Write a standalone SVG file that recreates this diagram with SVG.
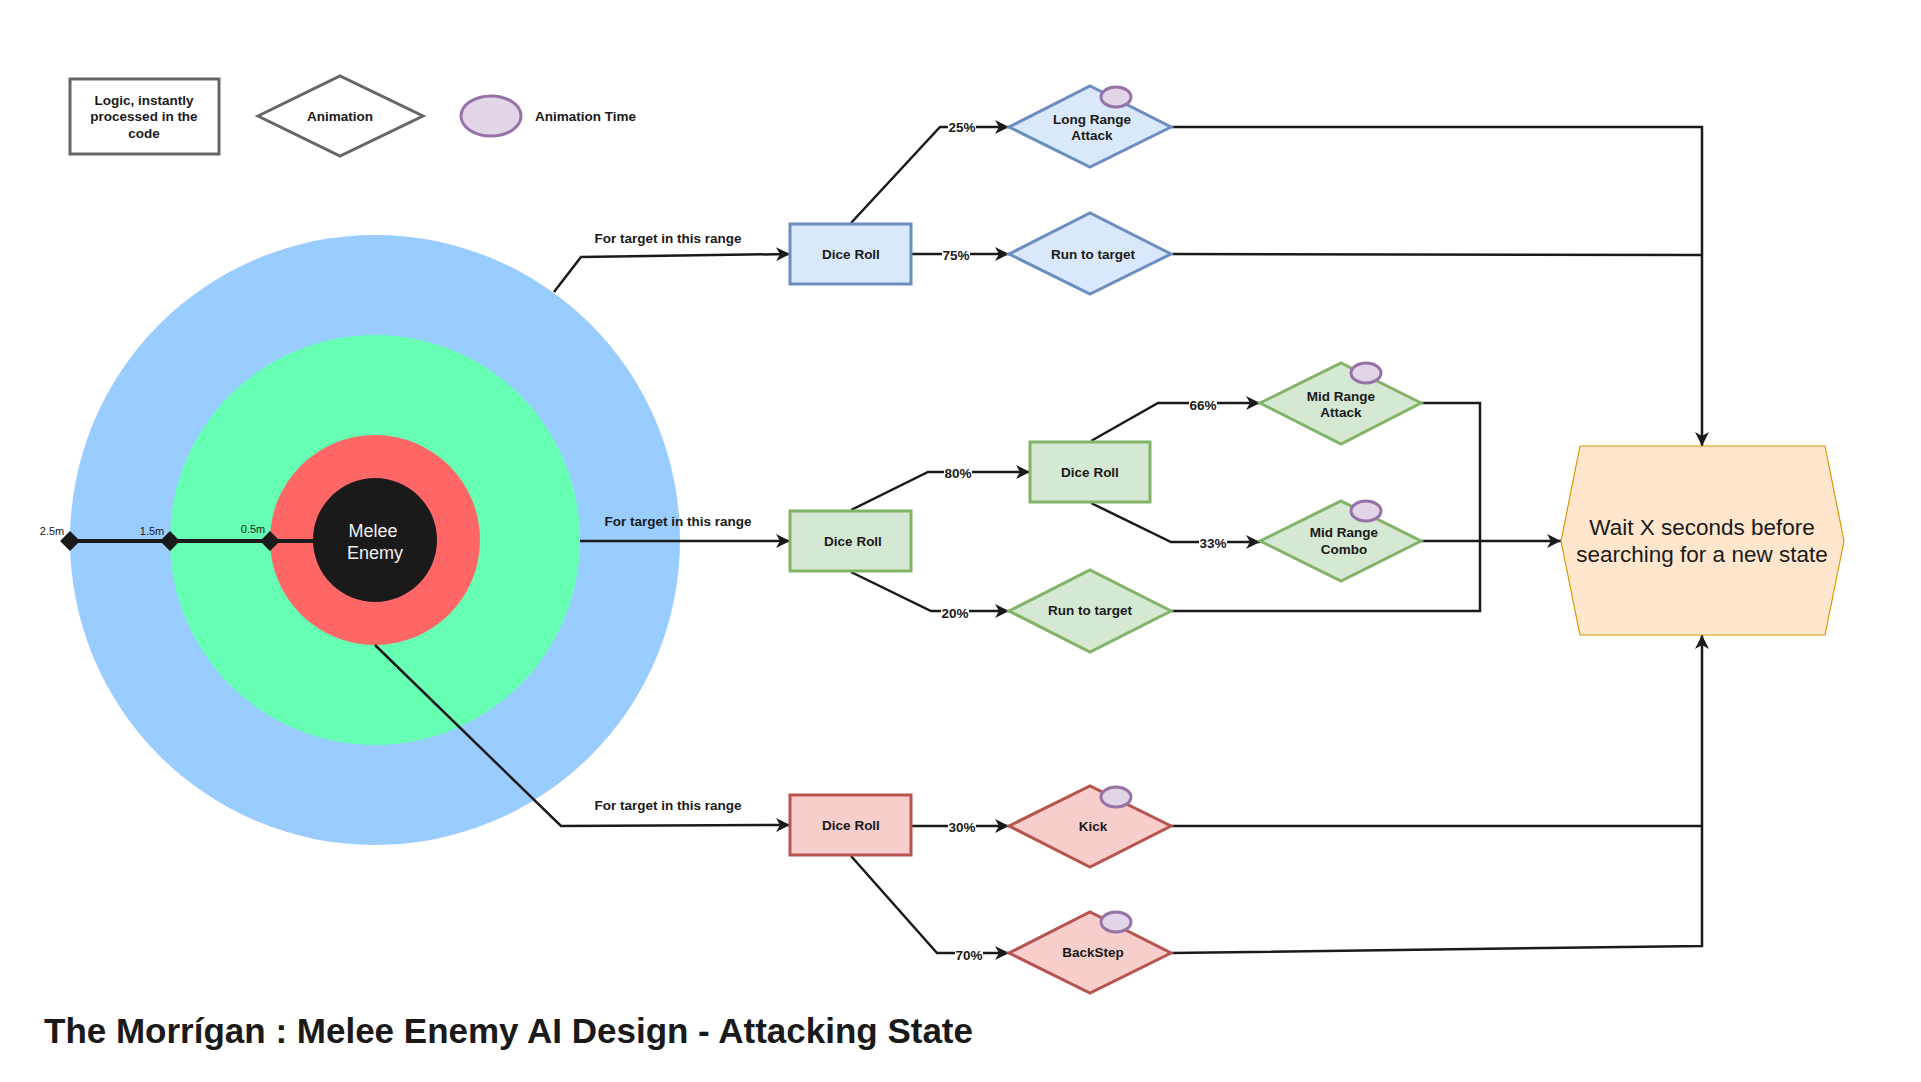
<svg xmlns="http://www.w3.org/2000/svg" width="1921" height="1082" viewBox="0 0 1921 1082">
<defs>
<style>
text{font-family:"Liberation Sans",Arial,sans-serif;fill:#1a1a1a}
.b{font-weight:bold;font-size:13.5px}
.c{text-anchor:middle;dominant-baseline:central}
.edge{fill:none;stroke:#1a1a1a;stroke-width:2.5}
.blue{fill:#dae8fc;stroke:#6c8ebf;stroke-width:3}
.green{fill:#d5e8d4;stroke:#82b366;stroke-width:3}
.red{fill:#f8cecc;stroke:#b85450;stroke-width:3}
.tm{fill:#e1d5e7;stroke:#9673a6;stroke-width:3}
.lbg{fill:#ffffff}
</style>
<marker id="arr" markerUnits="userSpaceOnUse" markerWidth="16" markerHeight="14" refX="14" refY="7" orient="auto" viewBox="0 0 16 14">
<path d="M0,0 L14,7 L0,14 L4,7 z" fill="#1a1a1a"/>
</marker>
</defs>
<rect width="1921" height="1082" fill="#ffffff"/>

<g id="legend-logic">
<rect x="70" y="79" width="149" height="75" fill="#ffffff" stroke="#666666" stroke-width="3"/>
<text class="b c" x="144" y="100">Logic, instantly</text>
<text class="b c" x="144" y="116">processed in the</text>
<text class="b c" x="144" y="133">code</text>
</g>
<g id="legend-animation">
<path d="M258,116 L340,76 L423,116 L340,156 z" fill="#ffffff" stroke="#666666" stroke-width="3"/>
<text class="b c" x="340" y="116">Animation</text>
</g>
<g id="legend-time">
<ellipse cx="491" cy="116" rx="30" ry="20" class="tm" stroke-width="3.5"/>
<text class="b" x="535" y="116" dominant-baseline="central">Animation Time</text>
</g>

<g id="range-circles">
<circle cx="375" cy="540" r="305" fill="#99ccff"/>
<circle cx="375" cy="540" r="205" fill="#66ffb3"/>
<circle cx="375" cy="540" r="105" fill="#ff6666"/>
</g>
<g id="ruler">
<path d="M70,541 L313,541" stroke="#1a1a1a" stroke-width="4" fill="none"/>
<path d="M60,541 L70,531 L80,541 L70,551 z M160,541 L170,531 L180,541 L170,551 z M260,541 L270,531 L280,541 L270,551 z" fill="#1a1a1a"/>
<text x="52" y="531" font-size="11" text-anchor="middle" dominant-baseline="central">2.5m</text>
<text x="152" y="531" font-size="11" text-anchor="middle" dominant-baseline="central">1.5m</text>
<text x="253" y="529" font-size="11" text-anchor="middle" dominant-baseline="central">0.5m</text>
</g>
<g id="melee-enemy">
<circle cx="375" cy="540" r="62" fill="#1a1a1a"/>
<text class="c" x="373" y="531" font-size="18" style="fill:#f0f0f0">Melee</text>
<text class="c" x="375" y="553" font-size="18" style="fill:#f0f0f0">Enemy</text>
</g>

<g id="connectors">
<path class="edge" d="M554,292 L581,257 L790,254" marker-end="url(#arr)"/>
<path class="edge" d="M580,541 L790,541" marker-end="url(#arr)"/>
<path class="edge" d="M375,645 L561,826 L790,825" marker-end="url(#arr)"/>
<path class="edge" d="M851,223 L940,127 L1009,127" marker-end="url(#arr)"/>
<path class="edge" d="M912,254 L1009,254" marker-end="url(#arr)"/>
<path class="edge" d="M851,510 L928,472 L1030,472" marker-end="url(#arr)"/>
<path class="edge" d="M851,572 L931,611 L1009,611" marker-end="url(#arr)"/>
<path class="edge" d="M1091,441 L1158,403 L1260,403" marker-end="url(#arr)"/>
<path class="edge" d="M1091,503 L1171,542 L1260,542" marker-end="url(#arr)"/>
<path class="edge" d="M912,826 L1009,826" marker-end="url(#arr)"/>
<path class="edge" d="M851,856 L937,953 L1009,953" marker-end="url(#arr)"/>
<path class="edge" d="M1171,127 L1702,127 L1702,446" marker-end="url(#arr)"/>
<path class="edge" d="M1172,254 L1702,255"/>
<path class="edge" d="M1421,403 L1480,403 L1480,611 L1171,611"/>
<path class="edge" d="M1421,541 L1561,541" marker-end="url(#arr)"/>
<path class="edge" d="M1171,826 L1702,826"/>
<path class="edge" d="M1171,953 L1702,946 L1702,635" marker-end="url(#arr)"/>
<text class="b c" x="668" y="238">For target in this range</text>
<text class="b c" x="678" y="521">For target in this range</text>
<text class="b c" x="668" y="805">For target in this range</text>
<rect class="lbg" x="948" y="119" width="28" height="16"/><text class="b c" x="962" y="127">25%</text>
<rect class="lbg" x="942" y="246" width="28" height="16"/><text class="b c" x="956" y="255">75%</text>
<rect class="lbg" x="944" y="464" width="28" height="16"/><text class="b c" x="958" y="473">80%</text>
<rect class="lbg" x="941" y="604" width="28" height="16"/><text class="b c" x="955" y="613">20%</text>
<rect class="lbg" x="1189" y="396" width="28" height="16"/><text class="b c" x="1203" y="405">66%</text>
<rect class="lbg" x="1199" y="534" width="28" height="16"/><text class="b c" x="1213" y="543">33%</text>
<rect class="lbg" x="948" y="818" width="28" height="16"/><text class="b c" x="962" y="827">30%</text>
<rect class="lbg" x="955" y="946" width="28" height="16"/><text class="b c" x="969" y="955">70%</text>
</g>

<g id="dice-long">
<rect class="blue" x="790" y="224" width="121" height="60"/>
<text class="b c" x="851" y="254">Dice Roll</text>
</g>
<g id="long-range-attack">
<path class="blue" d="M1009,127 L1090,86 L1171,127 L1090,167 z"/>
<ellipse class="tm" cx="1116" cy="97" rx="15" ry="10"/>
<text class="b c" x="1092" y="119">Long Range</text>
<text class="b c" x="1092" y="135">Attack</text>
</g>
<g id="run-long">
<path class="blue" d="M1009,254 L1090,213 L1171,254 L1090,294 z"/>
<text class="b c" x="1093" y="254">Run to target</text>
</g>

<g id="dice-mid">
<rect class="green" x="790" y="511" width="121" height="60"/>
<text class="b c" x="853" y="541">Dice Roll</text>
</g>
<g id="dice-mid-2">
<rect class="green" x="1030" y="442" width="120" height="60"/>
<text class="b c" x="1090" y="472">Dice Roll</text>
</g>
<g id="mid-range-attack">
<path class="green" d="M1260,403 L1341,363 L1421,403 L1341,444 z"/>
<ellipse class="tm" cx="1366" cy="373" rx="15" ry="10"/>
<text class="b c" x="1341" y="396">Mid Range</text>
<text class="b c" x="1341" y="412">Attack</text>
</g>
<g id="mid-range-combo">
<path class="green" d="M1260,541 L1341,501 L1421,541 L1341,581 z"/>
<ellipse class="tm" cx="1366" cy="511" rx="15" ry="10"/>
<text class="b c" x="1344" y="532">Mid Range</text>
<text class="b c" x="1344" y="549">Combo</text>
</g>
<g id="run-mid">
<path class="green" d="M1009,611 L1090,570 L1171,611 L1090,652 z"/>
<text class="b c" x="1090" y="610">Run to target</text>
</g>

<g id="dice-short">
<rect class="red" x="790" y="795" width="121" height="60"/>
<text class="b c" x="851" y="825">Dice Roll</text>
</g>
<g id="kick">
<path class="red" d="M1009,826 L1090,786 L1171,826 L1090,867 z"/>
<ellipse class="tm" cx="1116" cy="797" rx="15" ry="10"/>
<text class="b c" x="1093" y="826">Kick</text>
</g>
<g id="backstep">
<path class="red" d="M1009,953 L1090,912 L1171,953 L1090,993 z"/>
<ellipse class="tm" cx="1116" cy="922" rx="15" ry="10"/>
<text class="b c" x="1093" y="952">BackStep</text>
</g>

<g id="wait-state">
<path d="M1561,541 L1580,446 L1825,446 L1844,541 L1825,635 L1580,635 z" fill="#ffe6cc" stroke="#d79b00" stroke-width="1.2"/>
<text class="c" x="1702" y="527" font-size="22.5">Wait X seconds before</text>
<text class="c" x="1702" y="554" font-size="22.5">searching for a new state</text>
</g>

<g id="title">
<text x="44" y="1043" font-size="35" font-weight="bold" textLength="929" lengthAdjust="spacingAndGlyphs">The Morrígan : Melee Enemy AI Design - Attacking State</text>
</g>
</svg>
